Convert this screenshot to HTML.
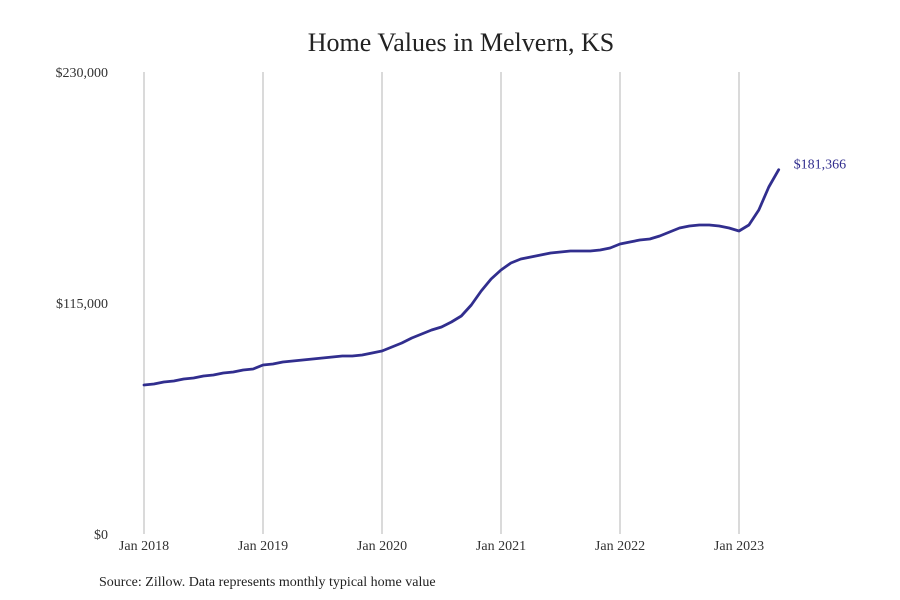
<!DOCTYPE html>
<html><head><meta charset="utf-8"><style>
body{margin:0;background:#fff;}
svg{display:block;font-family:"Liberation Serif",serif;}
</style></head><body>
<svg id="chart" width="900" height="600">
<text x="461" y="51" text-anchor="middle" font-size="26" fill="#222">Home Values in Melvern, KS</text>
<g id="grid"></g>
<g id="yaxis"></g>
<g id="xaxis"></g>
<g id="series"></g>
<text x="99" y="586" font-size="14" fill="#222">Source: Zillow. Data represents monthly typical home value</text>
</svg>
<script>
const values = [
74178,74676,75672,76170,77165,77663,78659,79157,80152,80650,81646,82144,
84135,84633,85628,86126,86624,87122,87620,88118,88616,88616,89114,90109,
91105,93096,95087,97577,99568,101559,103053,105542,108529,114005,120975,126949,
131430,134915,136906,137902,138897,139893,140391,140889,140889,140889,141387,142382,
144374,145369,146365,146863,148356,150348,152339,153335,153833,153833,153335,152339,
150846,153833,161300,172750,181366];
const yTicks = [0,115000,230000];
const yTickLabels = ["$0","$115,000","$230,000"];
const xTickLabels = ["Jan 2018","Jan 2019","Jan 2020","Jan 2021","Jan 2022","Jan 2023"];
const lastLabel = "$181,366";

const NS="http://www.w3.org/2000/svg";
const x0=144, monthW=119/12, yBase=534, yTop=72, yMax=230000;
const xs=i=>x0+i*monthW;
const ys=v=>yBase-(v/yMax)*(yBase-yTop);
function mk(tag,attrs,parent){const e=document.createElementNS(NS,tag);for(const k in attrs)e.setAttribute(k,attrs[k]);parent.appendChild(e);return e;}
const grid=document.getElementById('grid'),ya=document.getElementById('yaxis'),xa=document.getElementById('xaxis'),se=document.getElementById('series');
xTickLabels.forEach((l,i)=>{
  const x=xs(i*12);
  const ln=mk('line',{x1:x,x2:x,y1:yTop,y2:yBase,stroke:'#b5b5b5','stroke-width':1},grid);
  
  
  const t=mk('text',{x:x,y:550,'text-anchor':'middle','font-size':14,fill:'#333'},xa);
  t.textContent=l;
  
  
});
yTicks.forEach((v,i)=>{
  const t=mk('text',{x:108,y:ys(v)+5,'text-anchor':'end','font-size':14,fill:'#333'},ya);
  t.textContent=yTickLabels[i];
  
  
});
const d=values.map((v,i)=>(i?'L':'M')+xs(i).toFixed(1)+','+ys(v).toFixed(1)).join(' ');
const p=mk('path',{d:d,fill:'none',stroke:'#312e8e','stroke-width':2.8,'stroke-linejoin':'round','stroke-linecap':'round'},se);


const li=values.length-1;
const lt=mk('text',{x:xs(li)+15,y:ys(values[li])-1,'font-size':14,fill:'#312e8e'},se);
lt.textContent=lastLabel;


</script>
</body></html>
